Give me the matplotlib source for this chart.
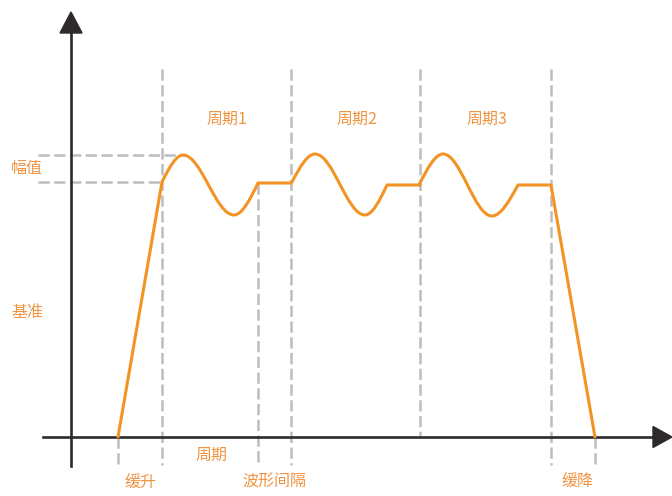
import matplotlib.pyplot as plt
from matplotlib.path import Path
from matplotlib.patches import PathPatch, Polygon

plt.rcParams['font.family'] = ['Noto Sans CJK SC', 'DejaVu Sans']

# picture is laid out in pixel units (y grows downward)
W, H = 672, 496

# baseline / levels
base_y = 437
level_y = 182
peak_y = 155

# ramp up and ramp down (x at baseline, x at level)
ramp_up_x = [118, 162]
ramp_down_x = [551, 595]

# each period: start, peak, trough, end of wave, end of flat gap
wave_start = [(162, 182), (292, 182), (420, 183)]
wave_peak = [(183, 155), (315, 154), (443, 154)]
wave_trough = [(234, 215), (365, 215), (492, 216)]
wave_end = [(258, 183), (387, 185), (518, 185)]
gap_end = [291, 420, 551]

period_labels = ['周期1', '周期2', '周期3']
period_label_x = [227, 357, 487]

# dashed guides: x, top, bottom
vguides_x = [118, 162, 258, 291, 420, 551, 595]
vguides_top = [437, 69, 183, 69, 69, 69, 437]
vguides_bottom = [465, 465, 465, 465, 437, 465, 465]

orange = '#F39324'
text_orange = '#F19442'
grey = '#BDBDBD'
dark = '#2E2A2B'


def rise(p0, p1):
    # quarter sine from midline to peak
    w = p1[0] - p0[0]
    h = p1[1] - p0[1]
    return [(p0[0] + w / 3, p0[1] + 0.52 * h), (p1[0] - w / 3, p1[1]), p1]


def swing(p0, p1):
    # half cosine between two extremes
    w = p1[0] - p0[0]
    return [(p0[0] + 0.363 * w, p0[1]), (p1[0] - 0.363 * w, p1[1]), p1]


def climb(p0, p1):
    # quarter sine from trough back to midline
    w = p1[0] - p0[0]
    h = p1[1] - p0[1]
    return [(p0[0] + w / 3, p0[1]), (p1[0] - w / 3, p1[1] - 0.52 * h), p1]


fig = plt.figure(figsize=(W / 100, H / 100), dpi=100)
ax = fig.add_axes([0, 0, 1, 1])
ax.set_xlim(0, W)
ax.set_ylim(H, 0)
ax.axis('off')

# dashed guide lines
dash = (0, (4.5, 1.8))
for x, t, b in zip(vguides_x, vguides_top, vguides_bottom):
    ax.plot([x, x], [t, b], color=grey, lw=1.8, ls=dash, zorder=1)
ax.plot([38, 186], [peak_y, peak_y], color=grey, lw=1.8, ls=dash, zorder=1)
ax.plot([38, 162], [level_y, level_y], color=grey, lw=1.8, ls=dash, zorder=1)

# axes with arrows
ax.plot([43, 655], [base_y, base_y], color=dark, lw=1.9, zorder=2)
ax.plot([71, 71], [466, 30], color=dark, lw=1.9, zorder=2)
ax.add_patch(Polygon([[653, base_y - 10.5], [672, base_y], [653, base_y + 10.5]],
                     closed=True, color=dark, zorder=2))
ax.add_patch(Polygon([[60, 33], [71, 12], [82, 33]], closed=True, color=dark, zorder=2))

# orange signal
verts = [(ramp_up_x[0], base_y), (ramp_up_x[1], level_y)]
codes = [Path.MOVETO, Path.LINETO]
for i in range(3):
    s, p, t, e = wave_start[i], wave_peak[i], wave_trough[i], wave_end[i]
    if verts[-1] != s:
        verts.append(s)
        codes.append(Path.LINETO)
    for seg in (rise(s, p), swing(p, t), climb(t, e)):
        verts += seg
        codes += [Path.CURVE4] * 3
    verts.append((gap_end[i], e[1]))
    codes.append(Path.LINETO)
verts.append((ramp_down_x[1], base_y))
codes.append(Path.LINETO)
ax.add_patch(PathPatch(Path(verts, codes), fill=False, edgecolor=orange, lw=2.2,
                       capstyle='round', joinstyle='round', zorder=3))

# labels
fs = 11.5
for lab, x in zip(period_labels, period_label_x):
    ax.text(x, 119, lab, color=text_orange, fontsize=fs, ha='center', va='center')
ax.text(27, 169, '幅值', color=text_orange, fontsize=fs, ha='center', va='center')
ax.text(27, 312, '基准', color=text_orange, fontsize=fs, ha='center', va='center')
ax.text(211, 455, '周期', color=text_orange, fontsize=fs, ha='center', va='center')
ax.text(140, 482, '缓升', color=text_orange, fontsize=fs, ha='center', va='center')
ax.text(274, 482, '波形间隔', color=text_orange, fontsize=fs, ha='center', va='center')
ax.text(577, 481, '缓降', color=text_orange, fontsize=fs, ha='center', va='center')

fig.savefig('out.png', dpi=100)
